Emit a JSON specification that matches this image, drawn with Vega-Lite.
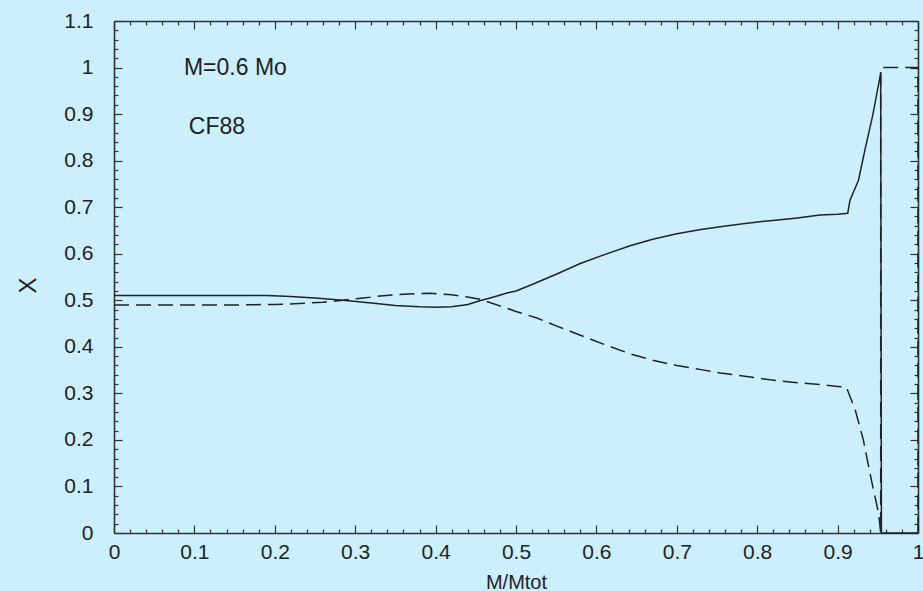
{
  "$schema": "https://vega.github.io/schema/vega-lite/v6.json",
  "width": 804,
  "height": 512,
  "autosize": {"type": "none"},
  "padding": {"left": 114, "top": 21, "right": 5, "bottom": 58},
  "background": "#cbeffd",
  "config": {
    "view": {"stroke": null},
    "font": "Liberation Sans",
    "axis": {
      "grid": false,
      "domainColor": "#333333",
      "domainWidth": 1.6,
      "tickColor": "#333333",
      "tickWidth": 1.2,
      "labelColor": "#222222",
      "labelFont": "Liberation Sans",
      "labelFontSize": 21,
      "labelFlush": false,
      "labelOverlap": false,
      "labelBound": false,
      "titleFont": "Liberation Sans",
      "titleFontWeight": "normal",
      "titleColor": "#222222"
    }
  },
  "datasets": {
    "curves": [
      {"series": "s", "i": 1, "m": 0, "x": 0.510},
      {"series": "s", "i": 2, "m": 0.05, "x": 0.510},
      {"series": "s", "i": 3, "m": 0.1, "x": 0.510},
      {"series": "s", "i": 4, "m": 0.15, "x": 0.510},
      {"series": "s", "i": 5, "m": 0.19, "x": 0.510},
      {"series": "s", "i": 6, "m": 0.22, "x": 0.508},
      {"series": "s", "i": 7, "m": 0.25, "x": 0.505},
      {"series": "s", "i": 8, "m": 0.285, "x": 0.500},
      {"series": "s", "i": 9, "m": 0.32, "x": 0.494},
      {"series": "s", "i": 10, "m": 0.35, "x": 0.489},
      {"series": "s", "i": 11, "m": 0.38, "x": 0.486},
      {"series": "s", "i": 12, "m": 0.40, "x": 0.485},
      {"series": "s", "i": 13, "m": 0.42, "x": 0.486},
      {"series": "s", "i": 14, "m": 0.44, "x": 0.491},
      {"series": "s", "i": 15, "m": 0.455, "x": 0.499},
      {"series": "s", "i": 16, "m": 0.47, "x": 0.506},
      {"series": "s", "i": 17, "m": 0.49, "x": 0.516},
      {"series": "s", "i": 18, "m": 0.50, "x": 0.520},
      {"series": "s", "i": 19, "m": 0.52, "x": 0.534},
      {"series": "s", "i": 20, "m": 0.55, "x": 0.556},
      {"series": "s", "i": 21, "m": 0.58, "x": 0.579},
      {"series": "s", "i": 22, "m": 0.61, "x": 0.598},
      {"series": "s", "i": 23, "m": 0.642, "x": 0.617},
      {"series": "s", "i": 24, "m": 0.67, "x": 0.631},
      {"series": "s", "i": 25, "m": 0.70, "x": 0.643},
      {"series": "s", "i": 26, "m": 0.73, "x": 0.652},
      {"series": "s", "i": 27, "m": 0.754, "x": 0.658},
      {"series": "s", "i": 28, "m": 0.78, "x": 0.664},
      {"series": "s", "i": 29, "m": 0.816, "x": 0.671},
      {"series": "s", "i": 30, "m": 0.85, "x": 0.677},
      {"series": "s", "i": 31, "m": 0.878, "x": 0.683},
      {"series": "s", "i": 32, "m": 0.90, "x": 0.685},
      {"series": "s", "i": 33, "m": 0.9126, "x": 0.687},
      {"series": "s", "i": 34, "m": 0.9154, "x": 0.715},
      {"series": "s", "i": 35, "m": 0.926, "x": 0.758},
      {"series": "s", "i": 36, "m": 0.934, "x": 0.823},
      {"series": "s", "i": 37, "m": 0.944, "x": 0.900},
      {"series": "s", "i": 38, "m": 0.9536, "x": 0.988},
      {"series": "s", "i": 39, "m": 0.9545, "x": 0},
      {"series": "s", "i": 40, "m": 1.0, "x": 0},
      {"series": "d", "i": 1, "m": 0, "x": 0.490},
      {"series": "d", "i": 2, "m": 0.05, "x": 0.490},
      {"series": "d", "i": 3, "m": 0.1, "x": 0.490},
      {"series": "d", "i": 4, "m": 0.15, "x": 0.490},
      {"series": "d", "i": 5, "m": 0.2, "x": 0.491},
      {"series": "d", "i": 6, "m": 0.23, "x": 0.493},
      {"series": "d", "i": 7, "m": 0.26, "x": 0.496},
      {"series": "d", "i": 8, "m": 0.285, "x": 0.500},
      {"series": "d", "i": 9, "m": 0.31, "x": 0.505},
      {"series": "d", "i": 10, "m": 0.331, "x": 0.509},
      {"series": "d", "i": 11, "m": 0.36, "x": 0.513},
      {"series": "d", "i": 12, "m": 0.393, "x": 0.515},
      {"series": "d", "i": 13, "m": 0.42, "x": 0.512},
      {"series": "d", "i": 14, "m": 0.44, "x": 0.507},
      {"series": "d", "i": 15, "m": 0.455, "x": 0.502},
      {"series": "d", "i": 16, "m": 0.48, "x": 0.488},
      {"series": "d", "i": 17, "m": 0.50, "x": 0.476},
      {"series": "d", "i": 18, "m": 0.526, "x": 0.462},
      {"series": "d", "i": 19, "m": 0.55, "x": 0.445},
      {"series": "d", "i": 20, "m": 0.58, "x": 0.425},
      {"series": "d", "i": 21, "m": 0.61, "x": 0.405},
      {"series": "d", "i": 22, "m": 0.642, "x": 0.385},
      {"series": "d", "i": 23, "m": 0.67, "x": 0.371},
      {"series": "d", "i": 24, "m": 0.70, "x": 0.360},
      {"series": "d", "i": 25, "m": 0.73, "x": 0.351},
      {"series": "d", "i": 26, "m": 0.754, "x": 0.344},
      {"series": "d", "i": 27, "m": 0.78, "x": 0.338},
      {"series": "d", "i": 28, "m": 0.816, "x": 0.329},
      {"series": "d", "i": 29, "m": 0.85, "x": 0.323},
      {"series": "d", "i": 30, "m": 0.878, "x": 0.319},
      {"series": "d", "i": 31, "m": 0.90, "x": 0.315},
      {"series": "d", "i": 32, "m": 0.911, "x": 0.313},
      {"series": "d", "i": 33, "m": 0.922, "x": 0.264},
      {"series": "d", "i": 34, "m": 0.932, "x": 0.200},
      {"series": "d", "i": 35, "m": 0.942, "x": 0.114},
      {"series": "d", "i": 36, "m": 0.951, "x": 0.042},
      {"series": "d", "i": 37, "m": 0.9536, "x": 0},
      {"series": "d", "i": 38, "m": 0.9536, "x": 1.0},
      {"series": "d", "i": 39, "m": 1.0, "x": 1.0},
      {"series": "d", "i": 40, "m": 1.0, "x": 0}
    ],
    "notes": [
      {"m": 0.087, "x": 1.0, "text": "M=0.6 Mo"},
      {"m": 0.093, "x": 0.872, "text": "CF88"}
    ]
  },
  "resolve": {"axis": {"x": "independent", "y": "independent"}},
  "layer": [
    {
      "data": {"name": "curves"},
      "transform": [{"filter": "datum.series === 's'"}],
      "mark": {"type": "line", "color": "#222222", "strokeWidth": 1.5, "clip": false},
      "encoding": {
        "order": {"field": "i", "type": "quantitative"},
        "x": {
          "field": "m", "type": "quantitative",
          "scale": {"domain": [0, 1], "nice": false, "zero": false},
          "axis": {
            "orient": "bottom",
            "title": "M/Mtot",
            "titleFontSize": 20,
            "titleX": 402,
            "titleY": 55,
            "titleAnchor": "middle",
            "titleAlign": "center",
            "titleBaseline": "alphabetic",
            "values": [0,0.02,0.04,0.06,0.08,0.1,0.12,0.14,0.16,0.18,0.2,0.22,0.24,0.26,0.28,0.3,0.32,0.34,0.36,0.38,0.4,0.42,0.44,0.46,0.48,0.5,0.52,0.54,0.56,0.58,0.6,0.62,0.64,0.66,0.68,0.7,0.72,0.74,0.76,0.78,0.8,0.82,0.84,0.86,0.88,0.9,0.92,0.94,0.96,0.98,1],
            "tickSize": {"condition": {"test": "abs(datum.value*10 - round(datum.value*10)) < 0.001", "value": -8}, "value": -4},
            "labelExpr": "abs(datum.value*10 - round(datum.value*10)) < 0.001 ? format(datum.value, '~g') : ''",
            "labelPadding": 16
          }
        },
        "y": {
          "field": "x", "type": "quantitative",
          "scale": {"domain": [0, 1.1], "nice": false, "zero": false},
          "axis": {
            "orient": "left",
            "title": "X",
            "titleFontSize": 24,
            "titleAngle": -90,
            "titleX": -86,
            "titleY": 264,
            "titleAlign": "center",
            "titleBaseline": "middle",
            "values": [0,0.02,0.04,0.06,0.08,0.1,0.12,0.14,0.16,0.18,0.2,0.22,0.24,0.26,0.28,0.3,0.32,0.34,0.36,0.38,0.4,0.42,0.44,0.46,0.48,0.5,0.52,0.54,0.56,0.58,0.6,0.62,0.64,0.66,0.68,0.7,0.72,0.74,0.76,0.78,0.8,0.82,0.84,0.86,0.88,0.9,0.92,0.94,0.96,0.98,1,1.02,1.04,1.06,1.08,1.1],
            "tickSize": {"condition": {"test": "abs(datum.value*10 - round(datum.value*10)) < 0.001", "value": -8}, "value": -4},
            "labelExpr": "abs(datum.value*10 - round(datum.value*10)) < 0.001 ? format(datum.value, '~g') : ''",
            "labelPadding": 29
          }
        }
      }
    },
    {
      "data": {"name": "curves"},
      "transform": [{"filter": "datum.series === 'd'"}],
      "mark": {"type": "line", "color": "#222222", "strokeWidth": 1.5, "strokeDash": [15, 7], "clip": false},
      "encoding": {
        "order": {"field": "i", "type": "quantitative"},
        "x": {
          "field": "m", "type": "quantitative",
          "axis": {
            "orient": "top",
            "title": null,
            "labels": false,
            "values": [0,0.02,0.04,0.06,0.08,0.1,0.12,0.14,0.16,0.18,0.2,0.22,0.24,0.26,0.28,0.3,0.32,0.34,0.36,0.38,0.4,0.42,0.44,0.46,0.48,0.5,0.52,0.54,0.56,0.58,0.6,0.62,0.64,0.66,0.68,0.7,0.72,0.74,0.76,0.78,0.8,0.82,0.84,0.86,0.88,0.9,0.92,0.94,0.96,0.98,1],
            "tickSize": {"condition": {"test": "abs(datum.value*10 - round(datum.value*10)) < 0.001", "value": -8}, "value": -4}
          }
        },
        "y": {
          "field": "x", "type": "quantitative",
          "axis": {
            "orient": "right",
            "title": null,
            "labels": false,
            "values": [0,0.02,0.04,0.06,0.08,0.1,0.12,0.14,0.16,0.18,0.2,0.22,0.24,0.26,0.28,0.3,0.32,0.34,0.36,0.38,0.4,0.42,0.44,0.46,0.48,0.5,0.52,0.54,0.56,0.58,0.6,0.62,0.64,0.66,0.68,0.7,0.72,0.74,0.76,0.78,0.8,0.82,0.84,0.86,0.88,0.9,0.92,0.94,0.96,0.98,1,1.02,1.04,1.06,1.08,1.1],
            "tickSize": {"condition": {"test": "abs(datum.value*10 - round(datum.value*10)) < 0.001", "value": -8}, "value": -4}
          }
        }
      }
    },
    {
      "data": {"name": "notes"},
      "mark": {"type": "text", "align": "left", "baseline": "middle", "fontSize": 23, "font": "Liberation Sans", "color": "#222222"},
      "encoding": {
        "x": {"field": "m", "type": "quantitative", "axis": null},
        "y": {"field": "x", "type": "quantitative", "axis": null},
        "text": {"field": "text", "type": "nominal"}
      }
    }
  ]
}
